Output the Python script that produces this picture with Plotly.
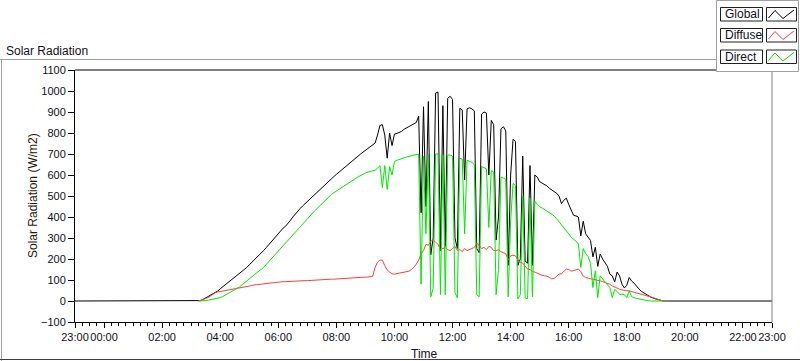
import pandas as pd
import plotly.graph_objects as go

# ---------------- data (5-minute samples, 03:00 .. 19:45) ----------------
START = "2015-06-21 03:00"
STEP = "5min"
RANGE_START = "2015-06-20 23:00"
RANGE_END = "2015-06-21 23:00"

GLOBAL = [
    0, 0, 0, 0, 2, 8, 14, 20, 26, 32, 40, 48,                          # 03
    58, 67, 76, 85, 94, 105, 114, 124, 133, 142, 151, 160,             # 04
    172, 183, 195, 206, 218, 229, 241, 254, 268, 282, 296, 310,        # 05
    324, 338, 347, 356, 368, 384, 400, 415, 429, 440, 452, 463,        # 06
    475, 486, 498, 509, 520, 530, 541, 551, 562, 572, 582, 593,        # 07
    603, 613, 624, 634, 644, 654, 663, 672, 682, 691, 700, 709,        # 08
    717, 724, 732, 740, 752, 790, 836, 840, 790, 680, 800, 740,        # 09
    795, 798, 802, 808, 818, 824, 830, 838, 842, 850, 880, 420,        # 10
    925, 450, 950, 220, 300, 990, 995, 240, 930, 260, 965, 975,        # 11
    960, 300, 250, 918, 910, 576, 915, 920, 915, 905, 250, 230,        # 12
    890, 900, 895, 600, 860, 840, 290, 400, 820, 830, 810, 170,        # 13
    600, 770, 760, 170, 200, 690, 190, 180, 645, 170, 600, 590,        # 14
    568, 562, 555, 548, 537, 530, 522, 513, 500, 464, 480, 490,        # 15
    460, 430, 408, 405, 400, 310, 380, 320, 305, 288, 210, 256,        # 16
    165, 224, 200, 180, 165, 128, 120, 90, 138, 120, 80, 62,           # 17
    75, 112, 95, 85, 70, 58, 46, 38, 30, 24, 18, 13,                   # 18
    9, 6, 3, 0, 0, 0, 0, 0, 0, 0,                                      # 19
]

DIFFUSE = [
    None, None, None, 0, 3, 8, 12, 16, 25, 33, 40, 43,                 # 03
    45, 47, 48, 50, 52, 54, 57, 61, 63, 65, 66, 68,                    # 04
    71, 74, 77, 78, 79, 81, 82, 83, 84, 86, 87, 89,                    # 05
    90, 91, 92, 92, 93, 93, 94, 95, 95, 96, 96, 97,                    # 06
    97, 98, 98, 99, 100, 100, 101, 102, 103, 103, 104, 104,            # 07
    105, 106, 107, 108, 108, 109, 110, 110, 111, 112, 113, 113,        # 08
    114, 114, 115, 118, 160, 185, 195, 194, 168, 148, 138, 130,        # 09
    128, 130, 132, 134, 136, 138, 142, 150, 160, 175, 195, 225,        # 10
    240, 270, 265, 285, 290, 280, 270, 245, 250, 255, 245, 240,        # 11
    250, 260, 240, 245, 235, 250, 240, 245, 250, 255, 275, 265,        # 12
    250, 255, 245, 260, 255, 240, 240, 245, 235, 230, 225, 195,        # 13
    215, 218, 215, 195, 185, 180, 165, 152, 150, 140, 138, 132,        # 14
    128, 122, 120, 118, 112, 106, 108, 118, 128, 130, 140, 152,        # 15
    150, 142, 145, 150, 152, 140, 118, 112, 108, 106, 104, 100,        # 16
    98, 96, 92, 88, 84, 80, 72, 66, 60, 56, 53, 50,                    # 17
    49, 48, 45, 41, 37, 34, 32, 28, 24, 21, 18, 16,                    # 18
    11, 7, 4, 0, None, None, None, None, None, None,                   # 19
]

DIRECT = [
    None, None, None, 0, 0, 1, 2, 4, 6, 9, 11, 14,                     # 03
    16, 21, 27, 33, 39, 45, 51, 57, 67, 77, 86, 96,                    # 04
    105, 114, 123, 132, 142, 151, 161, 174, 187, 200, 213, 225,        # 05
    238, 251, 263, 276, 289, 302, 315, 328, 340, 352, 365, 378,        # 06
    391, 403, 416, 429, 440, 452, 464, 475, 487, 499, 508, 516,        # 07
    524, 532, 540, 548, 555, 562, 570, 577, 584, 591, 598, 605,        # 08
    610, 614, 616, 618, 623, 632, 645, 540, 645, 531, 640, 600,        # 09
    664, 670, 675, 678, 682, 686, 690, 693, 695, 697, 699, 80,         # 10
    690, 320, 700, 20, 60, 700, 700, 30, 695, 30, 695, 695,            # 11
    690, 40, 15, 680, 675, 320, 670, 665, 660, 650, 30, 20,            # 12
    640, 635, 630, 350, 620, 615, 30, 150, 590, 585, 580, 20,          # 13
    380, 560, 550, 10, 30, 500, 15, 10, 490, 20, 475, 460,             # 14
    448, 443, 436, 428, 420, 413, 405, 392, 378, 364, 350, 338,        # 15
    320, 304, 295, 285, 272, 160, 250, 225, 212, 180, 64, 144,         # 16
    16, 120, 105, 92, 80, 64, 16, 56, 45, 32, 32, 30,                  # 17
    16, 50, 20, 15, 12, 10, 7, 5, 3, 1, 0, 0,                          # 18
    0, 0, 0, 0, None, None, None, None, None, None,                    # 19
]

SERIES_NAMES = ["Global", "Diffuse", "Direct"]
SERIES_COLORS = ["#000000", "#ff3c3c", "#00e800"]

TICK_VALS = ["2015-06-20 23:00", "2015-06-21 00:00", "2015-06-21 02:00",
             "2015-06-21 04:00", "2015-06-21 06:00", "2015-06-21 08:00",
             "2015-06-21 10:00", "2015-06-21 12:00", "2015-06-21 14:00",
             "2015-06-21 16:00", "2015-06-21 18:00", "2015-06-21 20:00",
             "2015-06-21 22:00", "2015-06-21 23:00"]
TICK_TEXT = ["23:00", "00:00", "02:00", "04:00", "06:00", "08:00", "10:00",
             "12:00", "14:00", "16:00", "18:00", "20:00", "22:00", "23:00"]

Y_TICKS = [-100, 0, 100, 200, 300, 400, 500, 600, 700, 800, 900, 1000, 1100]

# ---------------- figure ----------------
times = list(pd.date_range(START, periods=len(GLOBAL), freq=STEP))

FONT = "Liberation Sans, Arial, sans-serif"
TXT = "#10101c"
W, H = 800, 361
ML, MR, MT, MB = 75, 28, 70, 39
PW, PH = W - ML - MR, H - MT - MB


def px(x):
    return (x - ML) / PW


def py(y):
    return (H - MB - y) / PH


fig = go.Figure()
fig.add_trace(go.Scatter(
    x=[pd.Timestamp(RANGE_START)] + times + [pd.Timestamp(RANGE_END)],
    y=[0] + GLOBAL + [0], mode="lines", name=SERIES_NAMES[0],
    line=dict(color=SERIES_COLORS[0], width=1), showlegend=False))
fig.add_trace(go.Scatter(
    x=times, y=DIFFUSE, mode="lines", name=SERIES_NAMES[1],
    line=dict(color=SERIES_COLORS[1], width=1), showlegend=False))
fig.add_trace(go.Scatter(
    x=times, y=DIRECT, mode="lines", name=SERIES_NAMES[2],
    line=dict(color=SERIES_COLORS[2], width=1), showlegend=False))

shapes = []
annotations = []

# outer panel frame
shapes.append(dict(type="line", xref="paper", yref="paper",
                   x0=px(0), x1=px(716.5), y0=py(59.5), y1=py(59.5),
                   line=dict(color="#a0a0a0", width=1)))
shapes.append(dict(type="line", xref="paper", yref="paper",
                   x0=px(1.5), x1=px(1.5), y0=py(59.5), y1=py(361),
                   line=dict(color="#a0a0a0", width=1)))
shapes.append(dict(type="line", xref="paper", yref="paper",
                   x0=px(0), x1=px(800), y0=py(359.5), y1=py(359.5),
                   line=dict(color="#404040", width=1)))
# plot-area frame (top black, right grey)
shapes.append(dict(type="line", xref="paper", yref="paper",
                   x0=0, x1=1, y0=1, y1=1, line=dict(color="#000000", width=1)))
shapes.append(dict(type="line", xref="paper", yref="paper",
                   x0=1, x1=1, y0=0, y1=1, line=dict(color="#808080", width=1)))

# legend block
shapes.append(dict(type="rect", xref="paper", yref="paper",
                   x0=px(716.5), x1=px(798.5), y0=py(71.5), y1=py(0.5),
                   line=dict(color="#a0a0a0", width=1), fillcolor="white"))
row_tops = [7.5, 28.5, 50.0]
for name, color, top in zip(SERIES_NAMES, SERIES_COLORS, row_tops):
    bot = top + 13.5
    shapes.append(dict(type="rect", xref="paper", yref="paper",
                       x0=px(720.5), x1=px(762.5), y0=py(bot), y1=py(top),
                       line=dict(color="#202020", width=1)))
    shapes.append(dict(type="rect", xref="paper", yref="paper",
                       x0=px(766.5), x1=px(796.5), y0=py(bot), y1=py(top),
                       line=dict(color="#202020", width=1)))
    pts = [(768.5, top + 10.5), (775.0, top + 3.0), (783.0, top + 11.0), (794.0, top + 2.5)]
    path = "M " + " L ".join(f"{px(a):.5f},{py(b):.5f}" for a, b in pts)
    shapes.append(dict(type="path", xref="paper", yref="paper", path=path,
                       line=dict(color=color, width=1)))
    annotations.append(dict(text=name, xref="paper", yref="paper",
                            x=px(722.5), y=py((top + bot) / 2), xanchor="left",
                            yanchor="middle", showarrow=False,
                            font=dict(family=FONT, size=12, color=TXT)))

# chart caption
annotations.append(dict(text="Solar Radiation", xref="paper", yref="paper",
                        x=px(4), y=py(51), xanchor="left", yanchor="middle",
                        showarrow=False,
                        font=dict(family=FONT, size=12, color=TXT)))
# axis titles
annotations.append(dict(text="Time", xref="paper", yref="paper",
                        x=px(424), y=py(354), xanchor="center", yanchor="middle",
                        showarrow=False,
                        font=dict(family=FONT, size=12, color=TXT)))
annotations.append(dict(text="Solar Radiation (W/m2)", xref="paper", yref="paper",
                        x=px(33), y=py(196), xanchor="center", yanchor="middle",
                        textangle=-90, showarrow=False,
                        font=dict(family=FONT, size=12, color="#2a1408")))

fig.update_layout(
    width=W, height=H,
    margin=dict(l=ML, r=MR, t=MT, b=MB, pad=0, autoexpand=False),
    paper_bgcolor="white", plot_bgcolor="white",
    font=dict(family=FONT, size=11, color=TXT),
    shapes=shapes, annotations=annotations,
    showlegend=False,
    xaxis=dict(
        type="date", range=[RANGE_START, RANGE_END], automargin=False,
        tickmode="array", tickvals=TICK_VALS, ticktext=TICK_TEXT,
        tickangle=0,
        ticks="outside", ticklen=5, tickcolor="#000000", tickwidth=1,
        minor=dict(ticks="outside", ticklen=3, tickcolor="#000000",
                   dtick=15 * 60 * 1000, tick0=RANGE_START, showgrid=False),
        showline=True, linecolor="#000000", linewidth=1,
        showgrid=False, zeroline=False,
        tickfont=dict(family=FONT, size=11, color=TXT),
    ),
    yaxis=dict(
        range=[-100, 1100], automargin=False, tickmode="array", tickvals=Y_TICKS,
        ticks="outside", ticklen=6, tickcolor="#000000", tickwidth=1,
        showline=True, linecolor="#000000", linewidth=1,
        showgrid=False, zeroline=False,
        tickfont=dict(family=FONT, size=11, color=TXT),
    ),
)

fig.write_html(
    "out.html",
    config={"displayModeBar": False},
    post_script="document.body.style.margin='0';document.body.style.padding='0';",
)
